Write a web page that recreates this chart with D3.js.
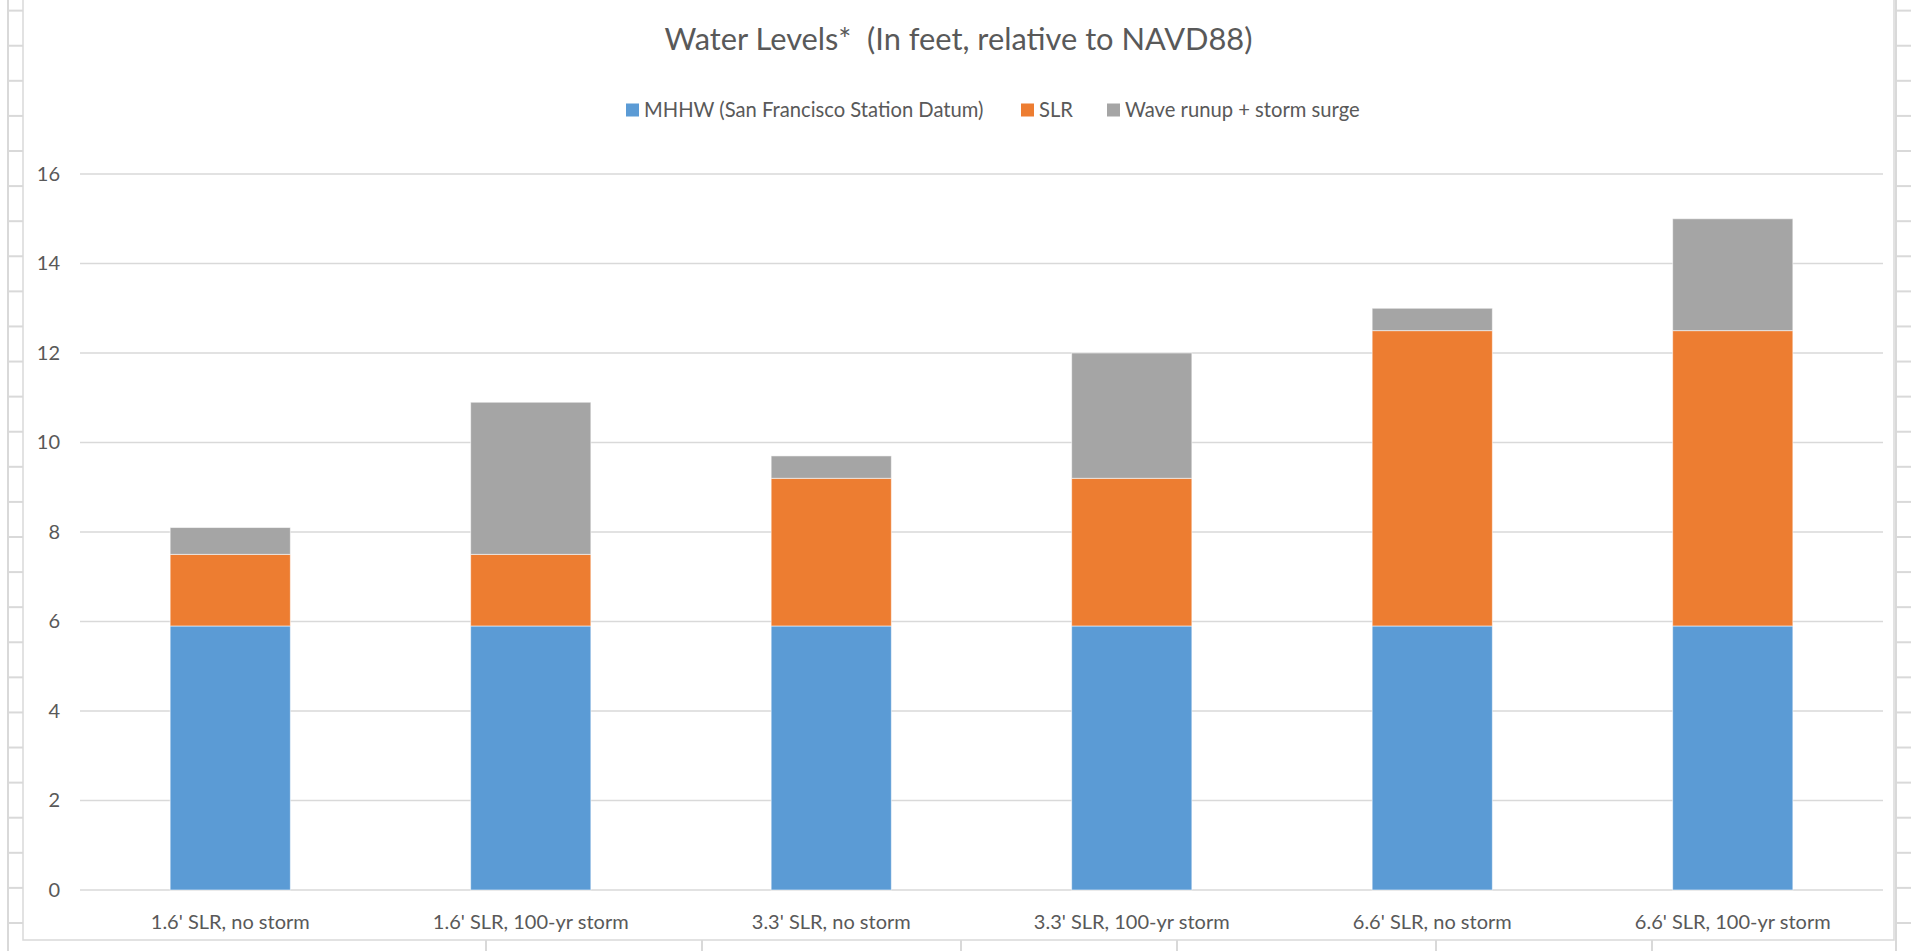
<!DOCTYPE html>
<html>
<head>
<meta charset="utf-8">
<script src="https://cdn.jsdelivr.net/npm/d3@7"></script>
<style>
  html, body { margin: 0; padding: 0; background: #ffffff; }
  svg { display: block; }
  text { font-family: Lato, "Liberation Sans", sans-serif; fill: #595959; }
</style>
</head>
<body>
<svg id="chart" width="1911" height="951"></svg>
<script>
// Scenario categories along the x axis
const categories = [
  "1.6' SLR, no storm",
  "1.6' SLR, 100-yr storm",
  "3.3' SLR, no storm",
  "3.3' SLR, 100-yr storm",
  "6.6' SLR, no storm",
  "6.6' SLR, 100-yr storm"
];

// Stacked components (feet, NAVD88)
const mhhw = [5.9, 5.9, 5.9, 5.9, 5.9, 5.9];
const slr = [1.6, 1.6, 3.3, 3.3, 6.6, 6.6];
const waveSurge = [0.6, 3.4, 0.5, 2.8, 0.5, 2.5];

const seriesNames = ["MHHW (San Francisco Station Datum)", "SLR", "Wave runup + storm surge"];
const seriesColors = ["#5B9BD5", "#ED7D31", "#A5A5A5"];
const yTicks = [0, 2, 4, 6, 8, 10, 12, 14, 16];
const titleText = "Water Levels*\u00a0 (In feet, relative to NAVD88)";

const svg = d3.select("#chart");

// ---- worksheet cell lines around the embedded chart ----
const cellLine = "#d9d9d9";
const sheet = svg.append("g");
const rowStep = 35.09;
for (let y = 151 - 4 * rowStep; y < 951; y += rowStep) {
  sheet.append("line").attr("x1", 8).attr("x2", 23).attr("y1", y).attr("y2", y)
    .attr("stroke", cellLine).attr("stroke-width", 2);
  sheet.append("line").attr("x1", 1895).attr("x2", 1911).attr("y1", y).attr("y2", y)
    .attr("stroke", cellLine).attr("stroke-width", 2);
}
sheet.append("line").attr("x1", 8).attr("x2", 8).attr("y1", 0).attr("y2", 951)
  .attr("stroke", cellLine).attr("stroke-width", 2);
sheet.append("line").attr("x1", 1896).attr("x2", 1896).attr("y1", 0).attr("y2", 951)
  .attr("stroke", cellLine).attr("stroke-width", 2);
[486, 702, 961, 1177, 1436, 1652].forEach(x => {
  sheet.append("line").attr("x1", x).attr("x2", x).attr("y1", 940).attr("y2", 951)
    .attr("stroke", cellLine).attr("stroke-width", 2);
});

// ---- chart area ----
svg.append("rect").attr("x", 23).attr("y", -2).attr("width", 1871).attr("height", 942)
  .attr("fill", "#ffffff").attr("stroke", "#d9d9d9").attr("stroke-width", 1.5);

const plot = { left: 80, right: 1883, top: 174, bottom: 890 };

const x = d3.scaleBand().domain(categories).range([plot.left, plot.right])
  .paddingInner(0.6).paddingOuter(0.3);
const y = d3.scaleLinear().domain([0, 16]).range([plot.bottom, plot.top]);

// gridlines
svg.append("g").selectAll("line").data(yTicks).join("line")
  .attr("x1", plot.left).attr("x2", plot.right)
  .attr("y1", d => y(d)).attr("y2", d => y(d))
  .attr("stroke", "#d9d9d9").attr("stroke-width", 1.5);

// y axis labels
const yAxis = d3.axisLeft(y).tickValues(yTicks).tickSize(0).tickPadding(20);
const gy = svg.append("g").attr("transform", `translate(${plot.left},0)`).call(yAxis);
gy.select(".domain").remove();
gy.selectAll("text").style("font-size", "20px").attr("fill", "#595959")
  .style("font-family", "Lato, 'Liberation Sans', sans-serif");

// x axis labels
const xAxis = d3.axisBottom(x).tickSize(0).tickPadding(25);
const gx = svg.append("g").attr("transform", `translate(0,${plot.bottom})`).call(xAxis);
gx.select(".domain").remove();
gx.selectAll("text").style("font-size", "20px").attr("fill", "#595959")
  .style("font-family", "Lato, 'Liberation Sans', sans-serif");

// stacked bars
const rows = categories.map((c, i) => ({ cat: c, s0: mhhw[i], s1: slr[i], s2: waveSurge[i] }));
const stack = d3.stack().keys(["s0", "s1", "s2"]);
const layers = stack(rows);

svg.append("g").selectAll("g").data(layers).join("g")
  .attr("fill", (d, i) => seriesColors[i])
  .selectAll("rect").data(d => d).join("rect")
  .attr("x", d => x(d.data.cat))
  .attr("width", x.bandwidth())
  .attr("y", d => y(d[1]))
  .attr("height", d => y(d[0]) - y(d[1]))
  .attr("stroke", "#ffffff").attr("stroke-opacity", 0.55).attr("stroke-width", 1);

// title
svg.append("text").attr("x", 958.5).attr("y", 50).attr("text-anchor", "middle")
  .style("font-size", "30.8px").text(titleText);

// legend
const legendX = [626, 1021, 1107];
const legend = svg.append("g").selectAll("g").data(seriesNames).join("g")
  .attr("transform", (d, i) => `translate(${legendX[i]},110)`);
legend.append("rect").attr("x", 0).attr("y", -6.5).attr("width", 13).attr("height", 13)
  .attr("fill", (d, i) => seriesColors[i]);
legend.append("text").attr("x", 18).attr("y", 7).style("font-size", "20.2px").text(d => d);
</script>
</body>
</html>
